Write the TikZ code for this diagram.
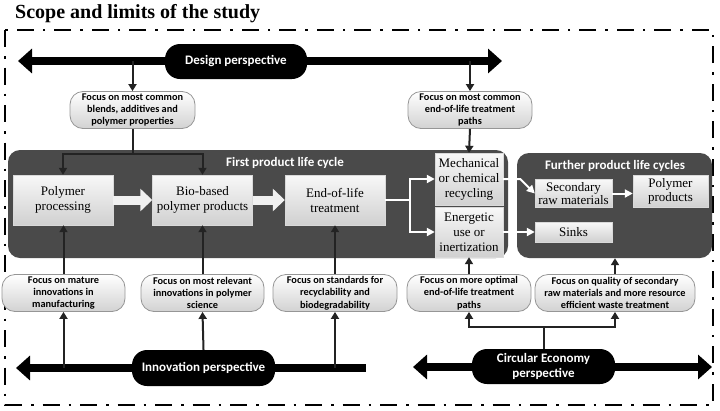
\documentclass[tikz,border=0pt]{standalone}
\usepackage{fontspec}
\setmainfont{Liberation Serif}
\newfontfamily\carlito{Carlito}
\usetikzlibrary{arrows.meta,shapes.arrows,calc}
\definecolor{panelgray}{RGB}{74,74,74}
\definecolor{conngray}{RGB}{35,35,35}
\definecolor{focusbot}{RGB}{210,210,210}
\definecolor{focusline}{RGB}{150,150,150}
\definecolor{lctop}{RGB}{248,248,248}
\definecolor{lcbot}{RGB}{208,208,208}
\definecolor{blockfill}{RGB}{240,240,240}
\tikzset{
  panel/.style={fill=panelgray, rounded corners=12pt, inner sep=0pt},
  paneltitle/.style={text=white, font=\carlito\bfseries\fontsize{13}{15}\selectfont},
  lcbox/.style={top color=lctop, bottom color=lcbot, draw=lcbot!80!white, line width=0.4pt,
    align=center, inner sep=1pt, font=\fontsize{13}{15}\selectfont},
  focus/.style={top color=white, bottom color=focusbot, draw=focusline, line width=0.8pt,
    rounded corners=13pt, align=center, inner sep=1pt, minimum height=37pt,
    font=\carlito\bfseries\fontsize{10.3}{12.4}\selectfont},
  persp/.style={fill=black, rounded corners=15pt, text=white, align=center, inner sep=1pt,
    font=\carlito\bfseries\fontsize{13}{15}\selectfont},
  bigarrow/.style={line width=8pt, {Triangle[width=24pt,length=14pt]}-{Triangle[width=24pt,length=14pt]}},
  conn/.style={draw=conngray, line width=2pt, -{Triangle[width=8pt,length=7pt]}},
  plainconn/.style={draw=conngray, line width=2pt},
  wconn/.style={draw=white, line width=2pt, -{Triangle[width=8pt,length=8pt]}},
  blockarrow/.style={draw=blockfill, line width=9pt, -{Triangle[width=22pt,length=12pt]}},
}
\begin{document}
\begin{tikzpicture}[x=1pt,y=-1pt]
\useasboundingbox (0,0) rectangle (720,410);
% title
\node[anchor=base west, inner sep=0pt, font=\bfseries\fontsize{20}{22}\selectfont] (title) at (15,18) {Scope and limits of the study};
% frame
\draw[line width=2.5pt, dash pattern=on 17pt off 9pt on 2.5pt off 9pt] (5,30) rectangle (713,405);
% perspective arrow end points
\coordinate (dl) at (18,61);
\coordinate (dr) at (502,61);
\coordinate (il) at (16,368);
\coordinate (ir) at (366,368);
\coordinate (cl) at (413,367);
\coordinate (cr) at (712,367);
\draw[bigarrow] (dl) -- (dr);
\draw[line width=8pt, {Triangle[width=24pt,length=14pt]}-] (il) -- (ir);
\draw[bigarrow] (cl) -- (cr);
% perspective nodes
\node[persp, minimum width=142pt, minimum height=35pt] (design) at (236,61.5) {Design perspective};
\node[persp, minimum width=143pt, minimum height=36pt] (innov) at (203.5,368) {Innovation perspective};
\node[persp, minimum width=143pt, minimum height=35pt] (circ) at (543.5,366.5) {Circular Economy\\perspective};
% panels
\node[panel, minimum width=500pt, minimum height=108pt] (fir) at (258,204) {};
\node[panel, minimum width=195pt, minimum height=105pt] (fur) at (614.5,205.5) {};
\node[paneltitle] (firt) at (285,163) {First product life cycle};
\node[paneltitle] (furt) at (615,166) {Further product life cycles};
% life cycle boxes
\node[lcbox, minimum width=100pt, minimum height=50pt] (pp) at (63,200) {Polymer\\processing};
\node[lcbox, minimum width=100pt, minimum height=50pt] (bb) at (202.5,200) {Bio-based\\polymer products};
\node[lcbox, minimum width=100pt, minimum height=50pt] (eol) at (335,200) {End-of-life\\treatment};
\node[lcbox, minimum width=68pt, minimum height=52pt] (mech) at (469,179) {Mechanical\\or chemical\\recycling};
\node[lcbox, minimum width=68pt, minimum height=50pt] (ener) at (469,232) {Energetic\\use or\\inertization};
\node[lcbox, minimum width=77pt, minimum height=28pt, font=\fontsize{13}{13.5}\selectfont] (sec) at (573.5,193.5) {Secondary\\raw materials};
\node[lcbox, minimum width=75pt, minimum height=32pt, font=\fontsize{13}{14}\selectfont] (polyp) at (670.5,191) {Polymer\\products};
\node[lcbox, minimum width=77pt, minimum height=20pt] (sinks) at (573.5,232) {Sinks};
% focus boxes
\node[focus, minimum width=125pt] (f1) at (132.5,110) {Focus on most common\\blends, additives and\\polymer properties};
\node[focus, minimum width=124pt] (f2) at (470,110) {Focus on most common\\end-of-life treatment\\paths};
\node[focus, minimum width=123pt] (fA) at (63.5,293) {Focus on mature\\innovations in\\manufacturing};
\node[focus, minimum width=123pt] (fB) at (202.5,293) {Focus on most relevant\\innovations in polymer\\science};
\node[focus, minimum width=124pt] (fC) at (335,293) {Focus on standards for\\recyclability and\\biodegradability};
\node[focus, minimum width=124pt] (fD) at (469,293) {Focus on more optimal\\end-of-life treatment\\paths};
\node[focus, minimum width=160pt] (fE) at (615,293) {Focus on quality of secondary\\raw materials and more resource\\efficient waste treatment};
% design connectors
\draw[conn] (f1.north |- dl) -- (f1.north);
\draw[conn] (f2.north |- dl) -- (f2.north);
\draw[plainconn] (f1.south) -- ++(0,25) coordinate (j1);
\draw[conn] (j1) -| (pp.north);
\draw[conn] (j1) -| (bb.north);
\draw[conn] (f2.south) -- (mech.north);
% white connectors
\draw[blockarrow] (pp.east) -- (bb.west);
\draw[blockarrow] (bb.east) -- (eol.west);
\draw[draw=white, line width=2pt] (eol.east) -- ++(25,0) coordinate (j2);
\draw[wconn] (j2) |- (mech.west);
\draw[wconn] (j2) |- (ener.west);
\draw[wconn] (mech.east) -- ++(17,0) -- (sec.west);
\draw[wconn] (ener.east) -- (sinks.west);
\draw[wconn] (sec.east) -- (sec.east -| polyp.west);
% innovation connectors
\draw[conn] (fA.south |- il) -- (fA.south);
\draw[conn] (fA.north) -- (fA.north |- pp.south);
\draw[conn] (innov.north) -- (fB.south);
\draw[conn] (fB.north) -- (bb.south);
\draw[conn] (fC.south |- il) -- (fC.south);
\draw[conn] (fC.north) -- (eol.south);
% circular economy connectors
\draw[plainconn] (circ.north) -- ++(0,-22) coordinate (j3);
\draw[conn] (j3) -| (fD.south);
\draw[conn] (j3) -| (fE.south);
\draw[conn] (fD.north) -- (ener.south);
\draw[conn] (fE.north) -- (fE.north |- fur.south);
\end{tikzpicture}
\end{document}
